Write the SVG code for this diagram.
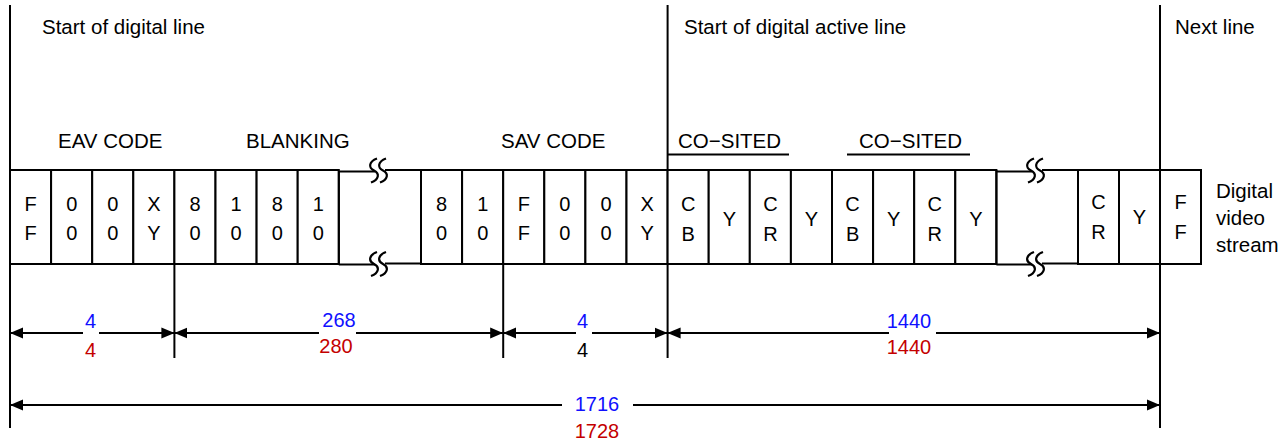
<svg xmlns="http://www.w3.org/2000/svg" width="1286" height="443" viewBox="0 0 1286 443">
<style>
  text { font-family: "Liberation Sans", Arial, sans-serif; font-size: 20px; fill: #000; }
  .h { font-size: 20.5px; }
  .c { text-anchor: middle; }
  .blue { fill: #1010ff; }
  .red { fill: #c40000; }
  .cell { fill: #fff; stroke: #000; stroke-width: 2; }
  .ln { stroke: #000; stroke-width: 2; fill: none; }
  .half { stroke: #000; stroke-width: 2; fill: none; }
</style>
<defs>
  <marker id="ah" markerUnits="userSpaceOnUse" markerWidth="13" markerHeight="12" refX="13" refY="6" orient="auto-start-reverse">
    <path d="M0,0.5 L13,6 L0,11.5 z" fill="#000"/>
  </marker>
  <g id="brk">
    <path d="M-1,-12 C-9,-9 -10,-3 -4,0 C2,3 1,9 -7,12" fill="none" stroke="#000" stroke-width="2.2"/>
    <path d="M8,-12 C0,-9 -1,-3 5,0 C11,3 10,9 2,12" fill="none" stroke="#000" stroke-width="2.2"/>
  </g>
</defs>
<rect width="1286" height="443" fill="#fff"/>

<!-- reference vertical lines -->
<g id="markers">
  <line class="ln" x1="10" y1="5" x2="10" y2="428"/>
  <line class="ln" x1="667.6" y1="5" x2="667.6" y2="358"/>
  <line class="ln" x1="1160" y1="5" x2="1160" y2="428"/>
  <line class="ln" x1="174.4" y1="264" x2="174.4" y2="358"/>
  <line class="ln" x1="503.2" y1="264" x2="503.2" y2="358"/>
</g>

<!-- headings -->
<g id="headings">
  <text class="h" x="42" y="34">Start of digital line</text>
  <text class="h" x="684" y="34">Start of digital active line</text>
  <text class="h" x="1175" y="34">Next line</text>
  <text class="h" x="58" y="148">EAV CODE</text>
  <text class="h" x="246" y="148">BLANKING</text>
  <text class="h" x="501" y="148">SAV CODE</text>
  <text class="h" x="678" y="148">CO−SITED</text>
  <line class="ln" x1="667.6" y1="154.5" x2="789" y2="154.5" stroke-width="1.5"/>
  <text class="h" x="859" y="148">CO−SITED</text>
  <line class="ln" x1="847" y1="154.5" x2="970" y2="154.5" stroke-width="1.5"/>
  <text class="h" x="1216" y="198">Digital</text>
  <text class="h" x="1216" y="225">video</text>
  <text class="h" x="1216" y="252">stream</text>
</g>

<!-- stream cells -->
<g id="cell0"><rect class="cell" x="10" y="170" width="41.1" height="94"/><text class="c" x="30.6" y="211">F</text><text class="c" x="30.6" y="240">F</text></g>
<g id="cell1"><rect class="cell" x="51.1" y="170" width="41.1" height="94"/><text class="c" x="71.7" y="211">0</text><text class="c" x="71.7" y="240">0</text></g>
<g id="cell2"><rect class="cell" x="92.2" y="170" width="41.1" height="94"/><text class="c" x="112.8" y="211">0</text><text class="c" x="112.8" y="240">0</text></g>
<g id="cell3"><rect class="cell" x="133.3" y="170" width="41.1" height="94"/><text class="c" x="153.9" y="211">X</text><text class="c" x="153.9" y="240">Y</text></g>
<g id="cell4"><rect class="cell" x="174.4" y="170" width="41.1" height="94"/><text class="c" x="195" y="211">8</text><text class="c" x="195" y="240">0</text></g>
<g id="cell5"><rect class="cell" x="215.5" y="170" width="41.1" height="94"/><text class="c" x="236.1" y="211">1</text><text class="c" x="236.1" y="240">0</text></g>
<g id="cell6"><rect class="cell" x="256.6" y="170" width="41.1" height="94"/><text class="c" x="277.2" y="211">8</text><text class="c" x="277.2" y="240">0</text></g>
<g id="cell7"><rect class="cell" x="297.7" y="170" width="41.1" height="94"/><text class="c" x="318.3" y="211">1</text><text class="c" x="318.3" y="240">0</text></g>

<g id="break1">
  <line class="ln" x1="338.8" y1="171" x2="338.8" y2="264"/>
  <line class="ln" x1="421" y1="170" x2="421" y2="264"/>
  <line class="ln" x1="338.8" y1="171.5" x2="375" y2="171.5"/>
  <line class="ln" x1="385" y1="170" x2="421" y2="170"/>
  <use href="#brk" x="378" y="170.5"/>
  <line class="ln" x1="338.8" y1="264.5" x2="375" y2="264.5"/>
  <line class="ln" x1="385" y1="263.5" x2="421" y2="263.5"/>
  <use href="#brk" x="378" y="264"/>
</g>

<g id="cell8"><rect class="cell" x="421" y="170" width="41.1" height="94"/><text class="c" x="441.6" y="211">8</text><text class="c" x="441.6" y="240">0</text></g>
<g id="cell9"><rect class="cell" x="462.1" y="170" width="41.1" height="94"/><text class="c" x="482.7" y="211">1</text><text class="c" x="482.7" y="240">0</text></g>
<g id="cell10"><rect class="cell" x="503.2" y="170" width="41.1" height="94"/><text class="c" x="523.8" y="211">F</text><text class="c" x="523.8" y="240">F</text></g>
<g id="cell11"><rect class="cell" x="544.3" y="170" width="41.1" height="94"/><text class="c" x="564.9" y="211">0</text><text class="c" x="564.9" y="240">0</text></g>
<g id="cell12"><rect class="cell" x="585.4" y="170" width="41.1" height="94"/><text class="c" x="606" y="211">0</text><text class="c" x="606" y="240">0</text></g>
<g id="cell13"><rect class="cell" x="626.5" y="170" width="41.1" height="94"/><text class="c" x="647.1" y="211">X</text><text class="c" x="647.1" y="240">Y</text></g>
<g id="cell14"><rect class="cell" x="667.6" y="170" width="41.1" height="94"/><text class="c" x="688.2" y="211">C</text><text class="c" x="688.2" y="241">B</text></g>
<g id="cell15"><rect class="cell" x="708.7" y="170" width="41.1" height="94"/><text class="c" x="729.3" y="226">Y</text></g>
<g id="cell16"><rect class="cell" x="749.8" y="170" width="41.1" height="94"/><text class="c" x="770.4" y="211">C</text><text class="c" x="770.4" y="241">R</text></g>
<g id="cell17"><rect class="cell" x="790.9" y="170" width="41.1" height="94"/><text class="c" x="811.5" y="226">Y</text></g>
<g id="cell18"><rect class="cell" x="832" y="170" width="41.1" height="94"/><text class="c" x="852.6" y="211">C</text><text class="c" x="852.6" y="241">B</text></g>
<g id="cell19"><rect class="cell" x="873.1" y="170" width="41.1" height="94"/><text class="c" x="893.7" y="226">Y</text></g>
<g id="cell20"><rect class="cell" x="914.2" y="170" width="41.1" height="94"/><text class="c" x="934.8" y="211">C</text><text class="c" x="934.8" y="241">R</text></g>
<g id="cell21"><rect class="cell" x="955.3" y="170" width="41.1" height="94"/><text class="c" x="975.9" y="226">Y</text></g>

<g id="break2">
  <line class="ln" x1="996.4" y1="170" x2="996.4" y2="264"/>
  <line class="ln" x1="1078" y1="170" x2="1078" y2="264"/>
  <line class="ln" x1="996.4" y1="171.5" x2="1032" y2="171.5"/>
  <line class="ln" x1="1042" y1="170" x2="1078" y2="170"/>
  <use href="#brk" x="1035" y="170.5"/>
  <line class="ln" x1="996.4" y1="264.5" x2="1032" y2="264.5"/>
  <line class="ln" x1="1042" y1="263.5" x2="1078" y2="263.5"/>
  <use href="#brk" x="1035" y="264"/>
</g>

<g id="cell22"><rect class="cell" x="1078" y="170" width="41" height="94"/><text class="c" x="1098.5" y="209">C</text><text class="c" x="1098.5" y="239">R</text></g>
<g id="cell23"><rect class="cell" x="1119" y="170" width="41" height="94"/><text class="c" x="1139.5" y="224">Y</text></g>
<g id="cell24"><rect class="cell" x="1160" y="170" width="41" height="94"/><text class="c" x="1180.5" y="209">F</text><text class="c" x="1180.5" y="239">F</text></g>

<!-- dimension connectors -->
<g id="connectors">
  <line class="half" x1="10" y1="333" x2="83" y2="333" marker-start="url(#ah)"/>
  <line class="half" x1="99" y1="333" x2="174.4" y2="333" marker-end="url(#ah)"/>
  <line class="half" x1="174.4" y1="333" x2="319" y2="333" marker-start="url(#ah)"/>
  <line class="half" x1="356" y1="333" x2="503.2" y2="333" marker-end="url(#ah)"/>
  <line class="half" x1="503.2" y1="333" x2="576" y2="333" marker-start="url(#ah)"/>
  <line class="half" x1="592" y1="333" x2="667.6" y2="333" marker-end="url(#ah)"/>
  <line class="half" x1="667.6" y1="333" x2="889" y2="333" marker-start="url(#ah)"/>
  <line class="half" x1="936" y1="333" x2="1160" y2="333" marker-end="url(#ah)"/>
  <line class="half" x1="10" y1="405" x2="562" y2="405" marker-start="url(#ah)"/>
  <line class="half" x1="633" y1="405" x2="1160" y2="405" marker-end="url(#ah)"/>
</g>

<g id="dim-labels">
  <text class="c blue" x="90.5" y="328">4</text>
  <text class="c red" x="90.5" y="357">4</text>
  <text class="c blue" x="339" y="327">268</text>
  <text class="c red" x="336" y="353">280</text>
  <text class="c blue" x="582.5" y="328">4</text>
  <text class="c" x="582.5" y="357">4</text>
  <text class="c blue" x="909" y="328">1440</text>
  <text class="c red" x="909" y="354">1440</text>
  <text class="c blue" x="597" y="411">1716</text>
  <text class="c red" x="597" y="438">1728</text>
</g>
</svg>
